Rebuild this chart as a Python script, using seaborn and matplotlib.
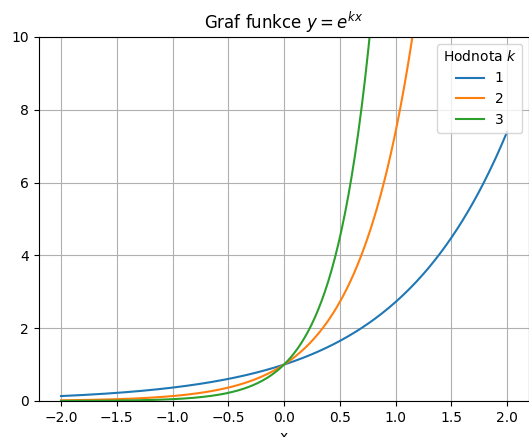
import numpy as np
import pandas as pd
import matplotlib
matplotlib.use("Agg")
import matplotlib.pyplot as plt
import seaborn as sns

# Exponent values k for y = e^(kx)
k_values = [1, 2, 3]
x_start, x_end, n_points = -2.0, 2.0, 400

x = np.linspace(x_start, x_end, n_points)
frames = [pd.DataFrame({"x": x, "y": np.exp(k * x), "k": str(k)}) for k in k_values]
df = pd.concat(frames, ignore_index=True)

fig = plt.figure(figsize=(5.29, 4.37), dpi=100)
ax = fig.add_axes([0.0732, 0.0824, 0.9274, 0.833])

sns.lineplot(data=df, x="x", y="y", hue="k", palette=["#1f77b4", "#ff7f0e", "#2ca02c"],
             linewidth=1.5, ax=ax)

ax.set_ylim(0, 10)
ax.set_xticks(np.arange(-2.0, 2.01, 0.5))
ax.set_title("Graf funkce $y = e^{kx}$", fontsize=12)
ax.set_xlabel("x")
ax.set_ylabel("")
ax.grid(True)
ax.legend(title="Hodnota $k$", loc="upper right")

fig.savefig("out.png", dpi=100)
